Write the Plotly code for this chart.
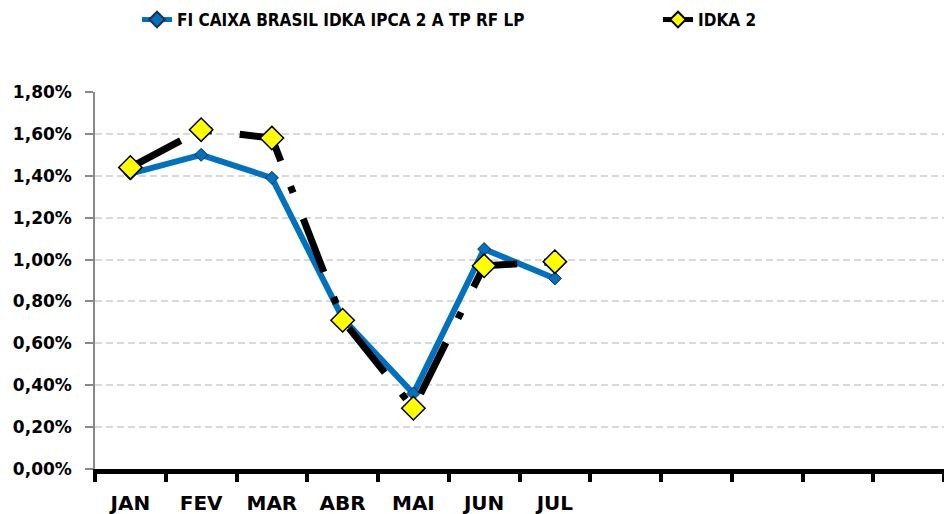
import plotly.graph_objects as go

months = ["JAN", "FEV", "MAR", "ABR", "MAI", "JUN", "JUL", "AGO", "SET", "OUT", "NOV", "DEZ"]
tick_labels = ["JAN", "FEV", "MAR", "ABR", "MAI", "JUN", "JUL", "", "", "", "", ""]
data_months = ["JAN", "FEV", "MAR", "ABR", "MAI", "JUN", "JUL"]
fundo = [0.0141, 0.0150, 0.0139, 0.0072, 0.0036, 0.0105, 0.0091]
idka2 = [0.0144, 0.0162, 0.0158, 0.0071, 0.0029, 0.0097, 0.0099]
y_ticks = [0, 0.002, 0.004, 0.006, 0.008, 0.010, 0.012, 0.014, 0.016, 0.018]

name_fundo = "FI CAIXA BRASIL IDKA IPCA 2 A TP RF LP"
name_idka = "IDKA 2"

fig = go.Figure()
fig.add_trace(go.Scatter(
    x=data_months, y=fundo, name=name_fundo, mode="lines+markers",
    line=dict(color="#0070C0", width=6),
    marker=dict(symbol="diamond", size=10, color="#0070C0",
                line=dict(color="#1F2F4F", width=1)),
    legend="legend",
))
fig.add_trace(go.Scatter(
    x=data_months, y=idka2, name=name_idka, mode="lines+markers",
    line=dict(color="#000000", width=7, dash="57px,27px,7px,28px"),
    marker=dict(symbol="diamond", size=18, color="#FFFF00",
                line=dict(color="#000000", width=1.5)),
    legend="legend2",
))

legend_font = dict(family="DejaVu Sans Condensed, Liberation Sans Narrow, DejaVu Sans",
                   size=17, color="#000000", weight="bold")

fig.update_layout(
    width=944, height=514,
    margin=dict(l=95, r=0, t=92, b=45, autoexpand=False),
    paper_bgcolor="white", plot_bgcolor="white",
    separators=",.",
    showlegend=True,
    legend=dict(xref="container", yref="container", x=137/944, y=1-20/514,
                xanchor="left", yanchor="middle", orientation="h",
                font=legend_font, bgcolor="rgba(0,0,0,0)", itemsizing="constant"),
    legend2=dict(xref="container", yref="container", x=658/944, y=1-20/514,
                 xanchor="left", yanchor="middle", orientation="h",
                 font=legend_font, bgcolor="rgba(0,0,0,0)", itemsizing="constant"),
    xaxis=dict(
        type="category", categoryorder="array", categoryarray=months,
        range=[-0.5, 11.5], tickmode="array", tickvals=months, ticktext=tick_labels,
        tickson="boundaries", ticks="outside", ticklen=8, tickwidth=4, tickcolor="#000000",
        showline=True, linecolor="#000000", linewidth=4.5, showgrid=False, zeroline=False,
        ticklabelstandoff=12,
        tickfont=dict(family="DejaVu Sans", size=20, color="#000000", weight="bold"),
        fixedrange=True,
    ),
    yaxis=dict(
        range=[0, 0.018], tickmode="array", tickvals=y_ticks, tickformat=".2%",
        ticks="outside", ticklen=8, tickwidth=1.5, tickcolor="#898989",
        showline=True, linecolor="#898989", linewidth=1.5,
        showgrid=True, gridcolor="#D9D9D9", gridwidth=1.5, griddash="7px,4px",
        zeroline=False, ticklabelstandoff=10,
        tickfont=dict(family="DejaVu Sans", size=17, color="#000000", weight="bold"),
        fixedrange=True,
    ),
)

fig.write_html("out.html", config={"displayModeBar": False},
               post_script="document.body.style.margin='0';document.body.style.overflow='hidden';")
